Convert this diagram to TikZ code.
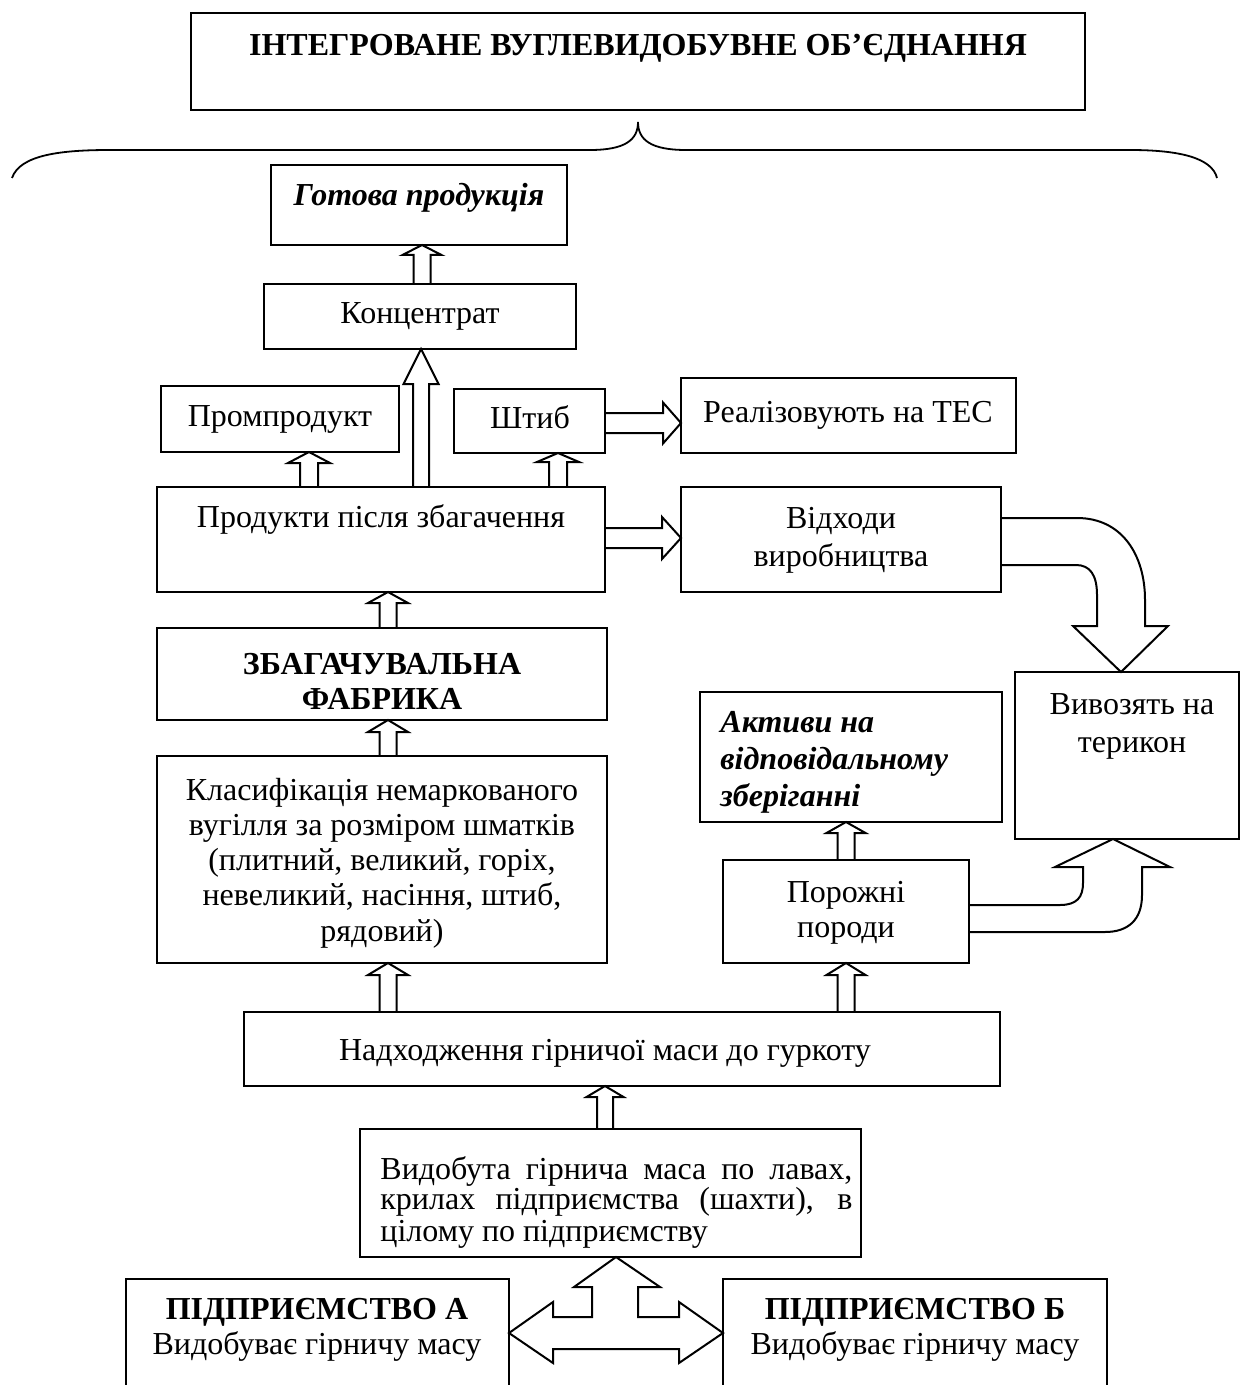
\documentclass[tikz,border=0pt]{standalone}
\usepackage{fontspec}
\setmainfont{Liberation Serif}
\usetikzlibrary{fit}
\newcommand\fs{\fontsize{16}{17.6}\selectfont}
\newcommand\fsw{\fontsize{16}{19}\selectfont}
% up block arrow: x, ybottom, yapex, yheadbase, shaft half, head half
\newcommand\blkup[6]{\draw[blk] (#1-#5,#2) -- (#1-#5,#4) -- (#1-#6,#4) -- (#1,#3) -- (#1+#6,#4) -- (#1+#5,#4) -- (#1+#5,#2);}
% right block arrow: y, xleft, xapex, xheadbase, shaft half, head half
\newcommand\blkright[6]{\draw[blk] (#2,#1-#5) -- (#4,#1-#5) -- (#4,#1-#6) -- (#3,#1) -- (#4,#1+#6) -- (#4,#1+#5) -- (#2,#1+#5);}
\begin{document}
\begin{tikzpicture}[x=0.5pt,y=-0.5pt,
  box/.style={draw, line width=1pt, inner sep=0pt},
  txt/.style={inner sep=0pt, font=\fs, text height=11.2pt, text depth=3.2pt},
  txtm/.style={inner sep=0pt, font=\fs, align=center},
  blk/.style={line width=1pt, line join=miter}]
\useasboundingbox (0,0) rectangle (1242,1385);

% boxes
\node[box, fit={(191,13) (1085,110)}] (top) {};
\node[box, fit={(271,165) (567,245)}] (got) {};
\node[box, fit={(264,284) (576,349)}] (kon) {};
\node[box, fit={(161,386) (399,452)}] (prom) {};
\node[box, fit={(454,389) (605,453)}] (shtyb) {};
\node[box, fit={(681,378) (1016,453)}] (tes) {};
\node[box, fit={(157,487) (605,592)}] (prod) {};
\node[box, fit={(681,487) (1001,592)}] (vidh) {};
\node[box, fit={(157,628) (607,720)}] (zbag) {};
\node[box, fit={(157,756) (607,963)}] (klas) {};
\node[box, fit={(1015,672) (1239,839)}] (ter) {};
\node[box, fit={(700,692) (1002,822)}] (akt) {};
\node[box, fit={(723,860) (969,963)}] (por) {};
\node[box, fit={(244,1012) (1000,1086)}] (nad) {};
\node[box, fit={(360,1129) (861,1257)}] (vyd) {};
\draw[line width=1pt] (126,1385) -- (126,1279) -- (509,1279) -- (509,1385);
\draw[line width=1pt] (723,1385) -- (723,1279) -- (1107,1279) -- (1107,1385);

% texts
\node[txt, font=\fs\bfseries] (toptxt) at (638,48) {ІНТЕГРОВАНЕ ВУГЛЕВИДОБУВНЕ ОБ’ЄДНАННЯ};
\node[txt, font=\fs\bfseries\itshape] (gottxt) at (419,198) {Готова продукція};
\node[txt] (kontxt) at (420,316) {Концентрат};
\node[txt] (promtxt) at (280,418) {Промпродукт};
\node[txt] (shtybtxt) at (530,420) {Штиб};
\node[txt] (testxt) at (848,414) {Реалізовують на ТЕС};
\node[txt] (prodtxt) at (381,519) {Продукти після збагачення};
\node[txtm, font=\fsw] (vidhtxt) at (841,540) {Відходи\\виробництва};
\node[txtm, font=\fs\bfseries] (zbagtxt) at (382,681) {ЗБАГАЧУВАЛЬНА\\ФАБРИКА};
\node[txtm] (klastxt) at (382,863) {Класифікація немаркованого\\вугілля за розміром шматків\\(плитний, великий, горіх,\\невеликий, насіння, штиб,\\рядовий)};
\node[txtm, font=\fsw] (tertxt) at (1132,726) {Вивозять на\\терикон};
\node[txtm, align=left, anchor=west, font=\fontsize{16}{18.5}\selectfont\bfseries\itshape] (akttxt) at (720,762) {Активи на\\відповідальному\\зберіганні};
\node[txtm] (portxt) at (846,913) {Порожні\\породи};
\node[txt] (nadtxt) at (605,1052) {Надходження гірничої маси до гуркоту};
\node[inner sep=0pt, font=\fs, anchor=base west] (vyd1) at (380,1179) {\makebox[236pt][s]{Видобута гірнича маса по лавах,}};
\node[inner sep=0pt, font=\fs, anchor=base west] (vyd2) at (380,1209) {\makebox[236pt][s]{крилах підприємства (шахти), в}};
\node[inner sep=0pt, font=\fs, anchor=base west] (vyd3) at (380,1241) {цілому по підприємству};
\node[txtm] (atxt) at (317,1330) {\textbf{ПІДПРИЄМСТВО А}\\Видобуває гірничу масу};
\node[txtm] (btxt) at (915,1330) {\textbf{ПІДПРИЄМСТВО Б}\\Видобуває гірничу масу};

% brace
\draw[line width=0.9pt] (12,178) .. controls (20,155) and (60,150) .. (110,150) -- (590,150)
  .. controls (625,150) and (638,140) .. (638,122)
  .. controls (638,140) and (651,150) .. (686,150) -- (1130,150)
  .. controls (1180,150) and (1212,158) .. (1217,178);

% block arrows
\blkup{422}{284}{245}{255}{8.5}{19.5}
\blkup{421}{487}{349}{384}{8}{17.5}
\blkup{309}{487}{452}{463}{9}{21}
\blkup{558}{487}{453}{462}{9}{21}
\blkup{388}{628}{592}{603}{8.5}{20}
\blkup{388}{756}{720}{732}{8.5}{20}
\blkup{388}{1012}{963}{975}{8.5}{20}
\blkup{846}{1012}{963}{975}{8.5}{19.5}
\blkup{846}{860}{822}{833}{8.5}{19.5}
\blkup{605}{1129}{1086}{1097}{8}{18.5}
\blkright{423}{605}{681}{663}{10}{20.5}
\blkright{538}{605}{681}{662}{10}{21}

% curved arrow: Відходи -> терикон
\draw[blk] (vidh.east |- 0,518) -- (1077,518) .. controls (1122,518) and (1145,555) .. (1145,600)
  -- (1145,626) -- (1168,626) -- (1121,672) -- (1073,626) -- (1097,626) -- (1097,595)
  .. controls (1097,575) and (1090,565) .. (1076,565) -- (vidh.east |- 0,565);
% curved arrow: Порожні -> терикон
\draw[blk] (por.east |- 0,905) -- (1060,905) .. controls (1077,905) and (1083,897) .. (1083,883)
  -- (1083,867) -- (1055,867) -- (1113,839) -- (1170,867) -- (1142,867) -- (1142,895)
  .. controls (1142,920) and (1128,932) .. (1105,932) -- (por.east |- 0,932);
% T-shaped arrow
\draw[blk] (592,1317) -- (592,1287) -- (574,1287) -- (616,1257) -- (660,1287) -- (638,1287)
  -- (638,1317) -- (679,1317) -- (679,1302) -- (723,1333) -- (679,1363) -- (679,1349)
  -- (553,1349) -- (553,1363) -- (509,1333) -- (553,1302) -- (553,1317) -- cycle;
\end{tikzpicture}
\end{document}
